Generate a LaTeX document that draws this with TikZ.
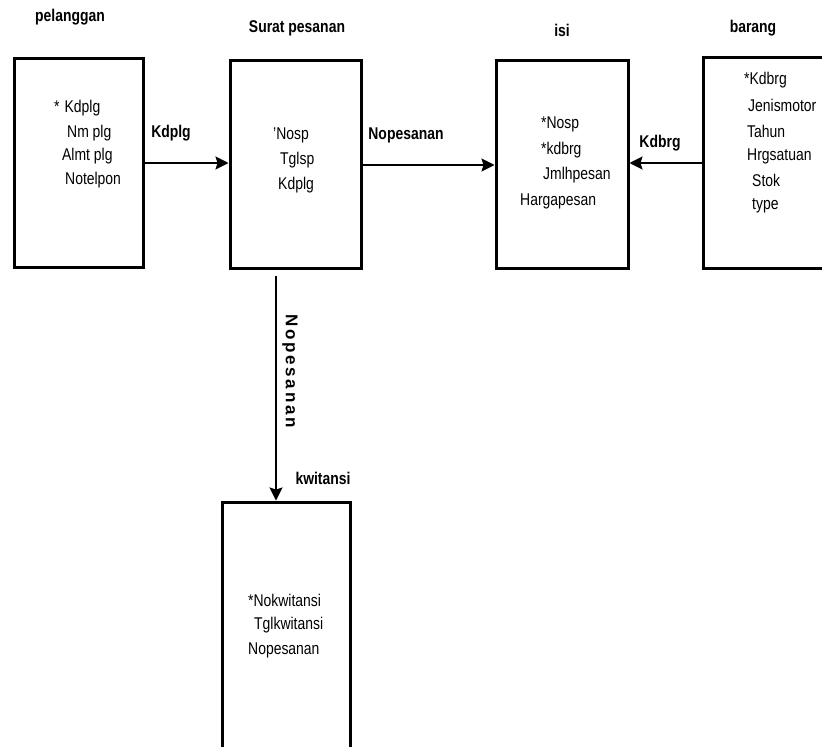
\documentclass[tikz,border=0pt]{standalone}
\usepackage{fontspec}
\setmainfont[FakeStretch=0.82]{Liberation Sans}
\newfontfamily\vlabelfont[LetterSpace=16]{Liberation Sans}
\usetikzlibrary{arrows.meta}
\begin{document}
\begin{tikzpicture}[x=1pt,y=-1pt,
  entity/.style={draw,line width=3pt,rectangle,inner sep=0pt},
  title/.style={font=\fontsize{17}{19}\selectfont\bfseries},
  attr/.style={font=\fontsize{17}{19}\selectfont,inner sep=0pt},
  rel/.style={font=\fontsize{17}{19}\selectfont\bfseries},
  conn/.style={line width=1.6pt,-{Stealth[length=13pt,width=13pt,inset=2pt]}}]
\useasboundingbox (0,0) rectangle (822,747);
% boxes
\node[entity,minimum width=129pt,minimum height=209pt] (pel) at (78.5,162.5) {};
\node[entity,minimum width=131pt,minimum height=208pt] (sp) at (295.5,164) {};
\node[entity,minimum width=132pt,minimum height=208pt] (isi) at (562,164) {};
\node[entity,minimum width=130pt,minimum height=211pt] (brg) at (768,162.5) {};
\node[entity,minimum width=128pt,minimum height=256pt] (kw) at (286,630) {};
% titles
\node[title] (tpel) at (70,17) {pelanggan};
\node[title] (tsp) at (297,28) {Surat pesanan};
\node[title] (tisi) at (562,30) {isi};
\node[title] (tbrg) at (753,28) {barang};
\node[title] (tkw) at (323,478) {kwitansi};
% pelanggan attributes
\node[attr,anchor=west] (p1) at (54,108) {*\hspace{5pt}Kdplg};
\node[attr,anchor=west] (p2) at (67,133) {Nm plg};
\node[attr,anchor=west] (p3) at (62,156) {Almt plg};
\node[attr,anchor=west] (p4) at (65,180) {Notelpon};
% surat pesanan attributes
\node[attr,anchor=west] (s1) at (273,135) {'Nosp};
\node[attr,anchor=west] (s2) at (280,160) {Tglsp};
\node[attr,anchor=west] (s3) at (278,185) {Kdplg};
% isi attributes
\node[attr,anchor=west] (i1) at (541,124) {*Nosp};
\node[attr,anchor=west] (i2) at (541,150) {*kdbrg};
\node[attr,anchor=west] (i3) at (543,175) {Jmlhpesan};
\node[attr,anchor=west] (i4) at (520,201) {Hargapesan};
% barang attributes
\node[attr,anchor=west] (b1) at (744,80) {*Kdbrg};
\node[attr,anchor=west] (b2) at (748,105) {Jenismotor};
\node[attr,anchor=west] (b3) at (747,131) {Tahun};
\node[attr,anchor=west] (b4) at (747,156) {Hrgsatuan};
\node[attr,anchor=west] (b5) at (752,180) {Stok};
\node[attr,anchor=west] (b6) at (752,206) {type};
% kwitansi attributes
\node[attr,anchor=west] (k1) at (248,600) {*Nokwitansi};
\node[attr,anchor=west] (k2) at (254,625) {Tglkwitansi};
\node[attr,anchor=west] (k3) at (248,650) {Nopesanan};
% connectors
\coordinate (a1) at (pel.east |- 0,163);
\coordinate (a2) at (sp.west |- 0,163);
\draw[conn] (a1) -- (a2);
\node[rel] (l1) at (171,133) {Kdplg};
\coordinate (b1s) at (sp.east |- 0,165);
\coordinate (b2s) at (isi.west |- 0,165);
\draw[conn] (b1s) -- (b2s);
\node[rel] (l2) at (406,135) {Nopesanan};
\coordinate (c1) at (brg.west |- 0,163);
\coordinate (c2) at (isi.east |- 0,163);
\draw[conn] (c1) -- (c2);
\node[rel] (l3) at (660,143) {Kdbrg};
\coordinate (d2) at (276,502);
\draw[conn] (sp.south -| d2) ++(0,6) -- (kw.north -| d2);
\node[rotate=-90,font=\vlabelfont\fontsize{17}{19}\selectfont\bfseries] (l4) at (290,371) {Nopesanan};
\end{tikzpicture}
\end{document}
